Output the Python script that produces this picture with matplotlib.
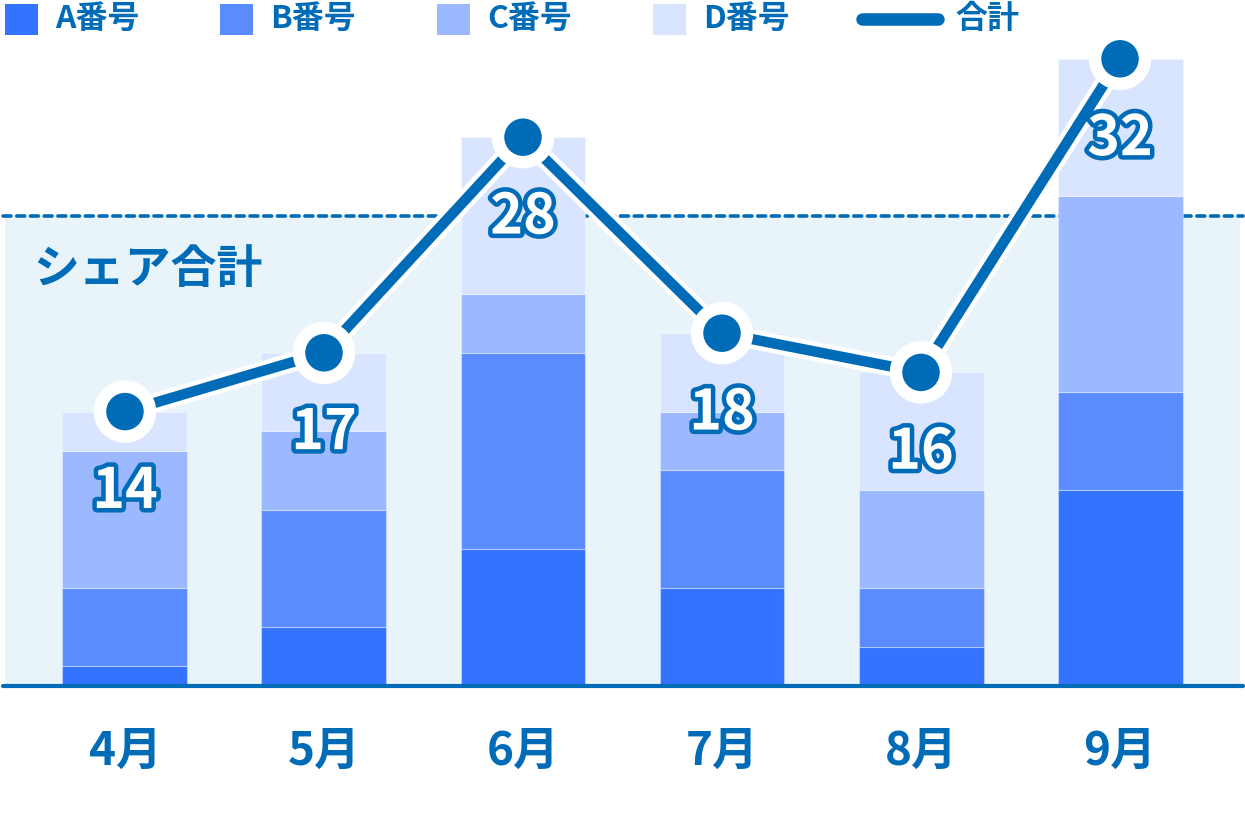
import numpy as np
import matplotlib
matplotlib.use("Agg")
import matplotlib.pyplot as plt
import matplotlib.patheffects as pe
from matplotlib.patches import Rectangle
from matplotlib.lines import Line2D

plt.rcParams['font.family'] = ['Noto Sans CJK JP', 'DejaVu Sans']

# data
months = ['4月', '5月', '6月', '7月', '8月', '9月']
series_names = ['A番号', 'B番号', 'C番号', 'D番号']
a_vals = [1, 3, 7, 5, 2, 10]
b_vals = [4, 6, 10, 6, 3, 5]
c_vals = [7, 4, 3, 3, 5, 10]
d_vals = [2, 4, 8, 4, 6, 7]
share_level = 24
share_label = 'シェア合計'
total_label = '合計'

colors = ['#3373ff', '#5b8cff', '#9cb9ff', '#d9e5ff']
dark = '#006cb8'
bg = '#e8f3fa'

fig = plt.figure(figsize=(12.45, 8.24), dpi=100)
ax = fig.add_axes([0, 0, 1, 1])
ax.set_xlim(-0.628, 5.628)
ax.set_ylim(-7.04, 35.0)
ax.axis('off')

x = np.arange(len(months))
stack = np.array([a_vals, b_vals, c_vals, d_vals])
totals = stack.sum(axis=0)

# share area
ax.add_patch(Rectangle((-0.603, 0), 6.206, share_level, facecolor=bg,
                       edgecolor='none', zorder=0))
ax.plot([-0.615, 5.62], [share_level, share_level], color=dark, lw=2.6,
        ls=(0, (2.2, 1.6)), dash_capstyle='round', zorder=1)
ax.text(-0.46, 21.2, share_label, color=dark, fontsize=33, fontweight='bold',
        va='center', ha='left', zorder=1)

# stacked bars
bottom = np.zeros(len(months))
for vals, col in zip(stack, colors):
    ax.bar(x, vals, bottom=bottom, width=0.628, color=col,
           edgecolor=(1, 1, 1, 0.35), linewidth=0.8, zorder=2)
    bottom += vals

# baseline
ax.plot([-0.612, 5.617], [0, 0], color=dark, lw=3, solid_capstyle='round', zorder=3)

# total line
ax.plot(x, totals, color=dark, lw=7.5, marker='o', markersize=31,
        markeredgecolor='white', markeredgewidth=4, zorder=4,
        solid_capstyle='round',
        path_effects=[pe.Stroke(linewidth=14, foreground='white'), pe.Normal()])

for xi, t in zip(x, totals):
    ax.text(xi, t - 4.1, str(t), color='white', fontsize=40, fontweight='bold',
            ha='center', va='center', zorder=5,
            path_effects=[pe.Stroke(linewidth=6.5, foreground=dark), pe.Normal()])

# month labels
for xi, m in zip(x, months):
    ax.text(xi, -3.35, m, color=dark, fontsize=33, fontweight='bold',
            ha='center', va='center')

# legend
leg_x = [5, 220, 437, 653]
for lx, name, col in zip(leg_x, series_names, colors):
    fig.patches.append(Rectangle((lx / 1245, 1 - 35 / 824), 33 / 1245, 31 / 824,
                                 transform=fig.transFigure, facecolor=col,
                                 edgecolor='none'))
    fig.text((lx + 50) / 1245, 1 - 19 / 824, name, color=dark, fontsize=23,
             fontweight='bold', va='center', ha='left')
fig.add_artist(Line2D([862 / 1245, 938 / 1245], [1 - 19 / 824, 1 - 19 / 824],
                      transform=fig.transFigure, color=dark, lw=9,
                      solid_capstyle='round'))
fig.text(955 / 1245, 1 - 19 / 824, total_label, color=dark, fontsize=23,
         fontweight='bold', va='center', ha='left')

fig.savefig('out.png', dpi=100)
